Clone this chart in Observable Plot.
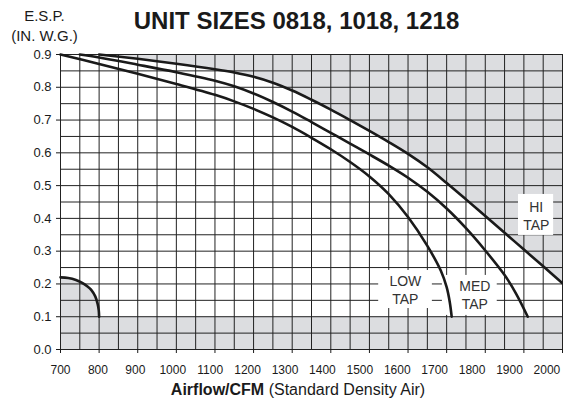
<!DOCTYPE html>
<html><head><meta charset="utf-8">
<script src="https://cdn.jsdelivr.net/npm/d3@7"></script>
<script src="https://cdn.jsdelivr.net/npm/@observablehq/plot@0.6"></script>
<style>
body{margin:0;background:#fff;font-family:"Liberation Sans",Arial,sans-serif;color:#1a1a1a}
#wrap{position:relative;width:563px;height:408px;overflow:hidden;background:#fff}
#chart{position:absolute;left:0;top:0}
#title{position:absolute;left:296.5px;top:9px;transform:translateX(-50%);font-weight:bold;font-size:24px;line-height:24px;white-space:nowrap}
#esp{position:absolute;left:44.5px;top:5.6px;transform:translateX(-50%);font-size:15px;line-height:20px;text-align:center;white-space:nowrap}
#xlabel{position:absolute;left:298px;top:380px;transform:translateX(-50%);font-size:16px;line-height:20px;white-space:nowrap}
</style></head>
<body>
<div id="wrap">
  <div id="chart"></div>
  <div id="title">UNIT SIZES 0818, 1018, 1218</div>
  <div id="esp">E.S.P.<br>(IN. W.G.)</div>
  <div id="xlabel"><b>Airflow/CFM</b> (Standard Density Air)</div>
</div>
<script>
// Fan curves: [CFM, E.S.P. in. w.g.]
const hiTap = [[800,0.9],[900,0.887],[1000,0.872],[1100,0.855],[1150,0.845],[1200,0.832],[1250,0.814],[1300,0.79],[1350,0.762],[1400,0.732],[1450,0.7],[1500,0.667],[1550,0.633],[1600,0.597],[1650,0.556],[1700,0.508],[1750,0.458],[1800,0.407],[1850,0.356],[1900,0.305],[1950,0.254],[2000,0.202]];
const medTap = [[750,0.9],[800,0.891],[900,0.869],[1000,0.846],[1100,0.82],[1150,0.803],[1200,0.781],[1250,0.755],[1300,0.726],[1350,0.694],[1400,0.661],[1450,0.628],[1500,0.595],[1550,0.561],[1600,0.524],[1650,0.481],[1700,0.43],[1750,0.37],[1800,0.302],[1850,0.227],[1880,0.17],[1910,0.1]];
const lowTap = [[700,0.9],[800,0.871],[900,0.841],[1000,0.81],[1100,0.777],[1150,0.757],[1200,0.734],[1250,0.708],[1300,0.679],[1350,0.646],[1400,0.611],[1450,0.572],[1500,0.528],[1550,0.474],[1600,0.404],[1650,0.316],[1685,0.24],[1700,0.19],[1708,0.145],[1713,0.1]];
const minAirflowCurve = [[700,0.22],[720,0.218],[740,0.212],[755,0.204],[770,0.192],[780,0.181],[790,0.162],[796,0.14],[799,0.12],[800,0.1]];
const minEsp = 0.1;
const maxEsp = 0.9;
const xDomain = [700, 2000];
const xTicks = [700,800,900,1000,1100,1200,1300,1400,1500,1600,1700,1800,1900,2000];
const yTicks = [0,0.1,0.2,0.3,0.4,0.5,0.6,0.7,0.8,0.9];
const gridX = d3.range(700, 2001, 50);
const gridY = d3.range(0, 0.901, 0.05);
// Tap labels (annotation boxes in data units)
const tapLabels = [
  {text: "HI\nTAP", cx: 1932, cy: 0.41, x1: 1886, x2: 1977, y1: 0.348, y2: 0.473},
  {text: "MED\nTAP", cx: 1773, cy: 0.168, x1: 1689, x2: 1831, y1: 0.104, y2: 0.226},
  {text: "LOW\nTAP", cx: 1593, cy: 0.183, x1: 1524, x2: 1663, y1: 0.125, y2: 0.241}
];

const shade = "#dcdde0";
const ink = "#1a1a1a";
const curve = "catmull-rom";

const chart = Plot.plot({
  width: 563, height: 380,
  marginTop: 54, marginBottom: 31, marginLeft: 60, marginRight: 1,
  x: {domain: xDomain},
  y: {domain: [0, maxEsp]},
  style: {fontFamily: "Liberation Sans, Arial, sans-serif", color: ink, background: "white", overflow: "visible"},
  marks: [
    Plot.areaY(hiTap, {x: d => d[0], y1: d => d[1], y2: maxEsp, fill: shade, curve}),
    Plot.areaY(xDomain, {x: d => d, y1: 0, y2: minEsp, fill: shade}),
    Plot.areaY(minAirflowCurve, {x: d => d[0], y1: 0, y2: d => d[1], fill: shade, curve}),
    Plot.ruleX(gridX, {x: d => d, stroke: "#222", strokeWidth: 1}),
    Plot.ruleY(gridY, {y: d => d, stroke: "#222", strokeWidth: 1}),
    Plot.rect(tapLabels, {x1: "x1", x2: "x2", y1: "y1", y2: "y2", fill: "white"}),
    Plot.line(lowTap, {x: d => d[0], y: d => d[1], stroke: ink, strokeWidth: 2.6, curve}),
    Plot.line(medTap, {x: d => d[0], y: d => d[1], stroke: ink, strokeWidth: 2.6, curve}),
    Plot.line(hiTap, {x: d => d[0], y: d => d[1], stroke: ink, strokeWidth: 2.6, curve}),
    Plot.line(minAirflowCurve, {x: d => d[0], y: d => d[1], stroke: ink, strokeWidth: 2.6, curve}),
    Plot.text(tapLabels, {x: "cx", y: "cy", text: "text", fontSize: 14, lineHeight: 1.3, fill: "#333"}),
    Plot.axisY({ticks: yTicks, tickSize: 4, tickPadding: 5, tickFormat: d3.format(".1f"), fontSize: 13, label: null}),
    Plot.axisX({ticks: xTicks, tickSize: 4, tickFormat: () => "", label: null}),
    Plot.text(xTicks, {x: d => 700 + (d - 700) * 0.969, y: 0, dy: 21, text: d => String(d), fontSize: 12})
  ]
});
document.getElementById("chart").appendChild(chart);
</script>
</body></html>
